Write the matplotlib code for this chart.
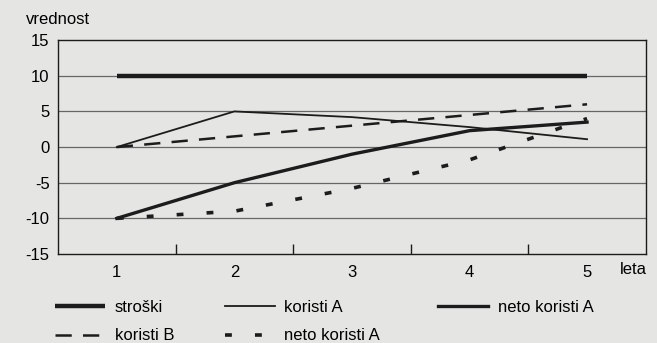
import numpy as np
import matplotlib
matplotlib.use("Agg")
import matplotlib.pyplot as plt

# podatki
leta = [1, 2, 3, 4, 5]
stroski = [10, 10, 10, 10, 10]
koristi_a = [0, 5, 4.2, 2.8, 1.1]
koristi_b = [0, 1.5, 3, 4.5, 6]
neto_a = [-10, -5, -1, 2.3, 3.5]
neto_b = [-10, -9, -5.8, -1.8, 4]

y_ticks = [-15, -10, -5, 0, 5, 10, 15]
grid_y = [-10, -5, 0, 5, 10]

bg = "#e5e5e3"
ink = "#1c1c1c"

plt.rcParams["font.family"] = ["Liberation Sans", "DejaVu Sans"]
plt.rcParams["font.size"] = 12
plt.rcParams["axes.unicode_minus"] = False

fig = plt.figure(figsize=(6.57, 3.43), dpi=100, facecolor=bg)
ax = fig.add_axes([0.0883, 0.2595, 0.8947, 0.6235], facecolor=bg)

for g in grid_y:
    ax.axhline(g, color="#666666", linewidth=0.9, zorder=1)

l1, = ax.plot(leta, stroski, color=ink, linewidth=3.2, solid_capstyle="butt", label="stroški", zorder=3)
l2, = ax.plot(leta, koristi_a, color=ink, linewidth=1.3, label="koristi A", zorder=3)
l3, = ax.plot(leta, neto_a, color=ink, linewidth=2.4, label="neto koristi A", zorder=3)
l4, = ax.plot(leta, koristi_b, color=ink, linewidth=1.8, dashes=(6.5, 4.5), label="koristi B", zorder=3)
l5, = ax.plot(leta, neto_b, color=ink, linewidth=2.6, dashes=(1.9, 6.4), label="neto koristi A", zorder=3)

ax.set_xlim(0.5, 5.5)
ax.set_ylim(-15, 15)
ax.set_yticks(y_ticks)
ax.set_xticks(leta)
ax.set_xticks([1.5, 2.5, 3.5, 4.5], minor=True)
ax.tick_params(axis="x", which="major", length=0, pad=8)
ax.tick_params(axis="x", which="minor", direction="in", length=7, width=1, color=ink)
ax.tick_params(axis="y", length=0, pad=6)
for s in ax.spines.values():
    s.set_color(ink)
    s.set_linewidth(1.0)

fig.text(26 / 657, 1 - 20 / 343, "vrednost", ha="left", va="center")
fig.text(647 / 657, 1 - 270 / 343, "leta", ha="right", va="center")

leg1 = fig.legend(handles=[l1, l4, l2, l5], ncol=2, loc="upper left",
                  bbox_to_anchor=(55 / 657, 1 - 300 / 343), frameon=False,
                  handlelength=3.0, handletextpad=0.6, columnspacing=3.0,
                  labelspacing=0.8, borderaxespad=0, borderpad=0)
leg2 = fig.legend(handles=[l3], loc="upper left",
                  bbox_to_anchor=(438 / 657, 1 - 300 / 343), frameon=False,
                  handlelength=3.0, handletextpad=0.6, borderaxespad=0, borderpad=0)

fig.savefig("out.png", dpi=100, facecolor=bg)
